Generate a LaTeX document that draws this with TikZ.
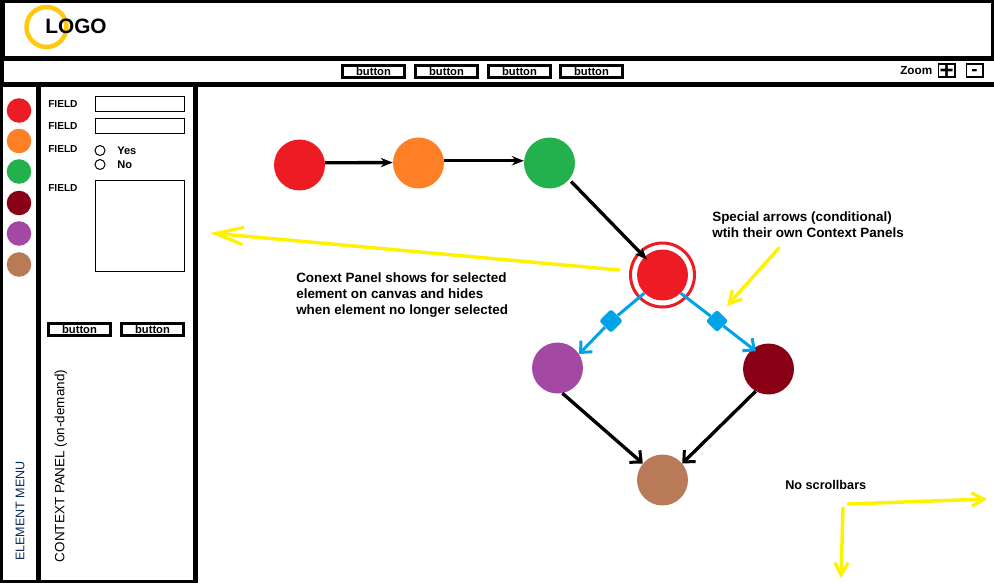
\documentclass[tikz,border=0pt]{standalone}
\usepackage{fontspec}
\setmainfont{Liberation Sans}
\usetikzlibrary{arrows.meta,positioning,calc,shapes.geometric}
\definecolor{ElemRed}{RGB}{237,28,36}
\definecolor{ElemOrange}{RGB}{255,127,39}
\definecolor{ElemGreen}{RGB}{34,177,76}
\definecolor{ElemMaroon}{RGB}{136,0,21}
\definecolor{ElemPurple}{RGB}{163,73,164}
\definecolor{ElemBrown}{RGB}{185,122,87}
\definecolor{NoteYellow}{RGB}{255,242,0}
\definecolor{LogoGold}{RGB}{255,201,14}
\definecolor{CondBlue}{RGB}{0,162,232}
\definecolor{MenuNavy}{RGB}{10,40,90}
\tikzset{
  elem/.style={circle,fill=#1,draw=none,inner sep=0pt,minimum size=38.2pt},
  menuelem/.style={circle,fill=#1,draw=none,inner sep=0pt,minimum size=18.4pt},
  barbtn/.style={draw=black,line width=2.25pt,fill=white,inner sep=0pt,minimum width=46.5pt,minimum height=9pt,
    font=\fontsize{8.4pt}{10pt}\selectfont\bfseries},
  inputbox/.style={draw=black,line width=0.75pt,fill=white,inner sep=0pt,minimum width=67pt},
  fieldlbl/.style={inner sep=0pt,anchor=west,font=\fontsize{7.6pt}{10pt}\selectfont\bfseries},
  radiolbl/.style={inner sep=0pt,anchor=west,font=\fontsize{8.3pt}{10pt}\selectfont\bfseries},
  zoombox/.style={draw=black,line width=1.1pt,inner sep=0pt,minimum width=12.4pt,minimum height=9.8pt},
  note/.style={inner sep=0pt,anchor=north west,align=left,font=\fontsize{10.1pt}{12pt}\selectfont\bfseries},
  barb/.style={-{Straight Barb[length=6.5pt,width=12pt,line width=2.25pt]}},
  flow/.style={line width=2.5pt,black,-{Stealth[length=9pt,width=7pt]}},
  cond/.style={line width=2.25pt,CondBlue},
  yellowarrow/.style={line width=2.6pt,NoteYellow,line cap=round,-{Straight Barb[length=9pt,width=10pt,line width=2.4pt]}}
}
\begin{document}
\begin{tikzpicture}[x=0.75pt,y=-0.75pt]
  \useasboundingbox (0,0) rectangle (994,583);
  % frame and panes
  \fill[black] (0,0) rectangle (994,583);
  \fill[white] (5,3) rectangle (991,56);
  \fill[white] (4,61) rectangle (994,82);
  \fill[white] (3,87) rectangle (36,580);
  \fill[white] (41,87) rectangle (193,580);
  \fill[white] (198,87) rectangle (994,583);
  % header
  \draw[LogoGold,line width=3.4pt] (46.5,27) circle (20);
  \node[inner sep=0pt,font=\fontsize{15.6pt}{18pt}\selectfont\bfseries] (logo) at (76,26) {LOGO};
  % toolbar
  \foreach \x/\nm in {373.5/a,446.5/b,519.5/c,591.5/d}
    \node[barbtn] (bar\nm) at (\x,71.5) {button};
  \node[fieldlbl,font=\fontsize{8.8pt}{10pt}\selectfont\bfseries] (zoomlbl) at (900,71) {Zoom};
  \node[zoombox,font=\fontsize{18pt}{18pt}\selectfont\bfseries] (zoomin) at (946.5,70.5) {\smash{\raisebox{-0.33em}{+}}};
  \node[zoombox,font=\fontsize{14pt}{14pt}\selectfont\bfseries] (zoomout) at (974.5,70.5) {\smash{\raisebox{-0.27em}{-}}};
  % element menu
  \foreach \y/\c/\nm in {110.5/ElemRed/a,141/ElemOrange/b,171.5/ElemGreen/c,203/ElemMaroon/d,233.5/ElemPurple/e,264.5/ElemBrown/f}
    \node[menuelem=\c] (menu\nm) at (19,\y) {};
  \node[rotate=90,inner sep=0pt,text=MenuNavy,font=\fontsize{9.4pt}{10pt}\selectfont] (menulbl) at (20,511) {ELEMENT MENU};
  % context panel
  \foreach \y/\nm in {104.5/a,126.5/b,149.5/c,188.5/d}
    \node[fieldlbl] (field\nm) at (48,\y) {FIELD};
  \node[inputbox,minimum height=11.5pt] (inputa) at (140,104) {};
  \node[inputbox,minimum height=11.5pt] (inputb) at (140,126) {};
  \node[inputbox,minimum height=68.5pt] (inputd) at (140,226) {};
  \node[draw=black,line width=0.75pt,circle,inner sep=0pt,minimum size=7.5pt] (radioyes) at (100,150.5) {};
  \node[draw=black,line width=0.75pt,circle,inner sep=0pt,minimum size=7.5pt] (radiono) at (100,164.5) {};
  \node[radiolbl] (yes) at (117,151) {Yes};
  \node[radiolbl] (no) at (117,165) {No};
  \node[barbtn] (panelbtna) at (79.5,329.5) {button};
  \node[barbtn] (panelbtnb) at (152.5,329.5) {button};
  \node[rotate=90,inner sep=0pt,font=\fontsize{10.1pt}{11pt}\selectfont] (panellbl) at (61,466) {CONTEXT PANEL (on-demand)};
  % canvas elements
  \node[elem=ElemRed] (start) at (299.5,165) {};
  \node[elem=ElemOrange] (second) at (418.5,163) {};
  \node[elem=ElemGreen] (third) at (549.5,163) {};
  \node[elem=ElemRed] (selected) at (662.5,275) {};
  \node[circle,draw=ElemRed,line width=2.25pt,inner sep=0pt,minimum size=48pt] (ring) at (662.5,275) {};
  \node[elem=ElemPurple] (left) at (557.5,368) {};
  \node[elem=ElemMaroon] (right) at (768.5,369) {};
  \node[elem=ElemBrown] (last) at (662.5,480) {};
  \node[diamond,fill=CondBlue,rounded corners=2pt,inner sep=0pt,minimum size=18pt] (condl) at (611,321) {};
  \node[diamond,fill=CondBlue,rounded corners=2pt,inner sep=0pt,minimum size=17pt] (condr) at (717,321) {};
  % connectors
  \draw[flow] (start.5) -- (second.179.5);
  \draw[flow] (second.5) -- (third.175);
  \draw[flow,shorten <=2pt,shorten >=-3pt] (third.-40) -- (selected.135);
  \draw[cond] (selected.225) -- (condl);
  \draw[cond,barb] (condl) -- (left.33);
  \draw[cond] (selected.-45) -- (condr);
  \draw[cond,barb,shorten >=-3pt] (condr) -- (right.128);
  \draw[flow,barb] (left.-79) -- (last.140);
  \draw[flow,barb] (right.-120) -- (last.40);
  % notes
  \node[note] (specialnote) at (712,211) {Special arrows (conditional)\\wtih their own Context Panels};
  \node[note] (panelnote) at (296,272) {Conext Panel shows for selected\\element on canvas and hides\\when element no longer selected};
  \node[note,font=\fontsize{9.5pt}{12pt}\selectfont\bfseries] (scrollnote) at (785,480) {No scrollbars};
  \coordinate (panelfrom) at (619,270);
  \coordinate (panelto) at (210,233);
  \coordinate (specialfrom) at (779,248);
  \coordinate (specialto) at (727,306);
  \coordinate (scrollh) at (848,504);
  \coordinate (scrollhto) at (987,499);
  \coordinate (scrollv) at (843,508);
  \coordinate (scrollvto) at (841,578);
  \draw[yellowarrow,-{Straight Barb[length=21pt,width=13pt,line width=2.4pt]}] (panelfrom) -- (panelto);
  \draw[yellowarrow] (specialfrom) -- (specialto);
  \draw[yellowarrow] (scrollh) -- (scrollhto);
  \draw[yellowarrow] (scrollv) -- (scrollvto);
\end{tikzpicture}
\end{document}
